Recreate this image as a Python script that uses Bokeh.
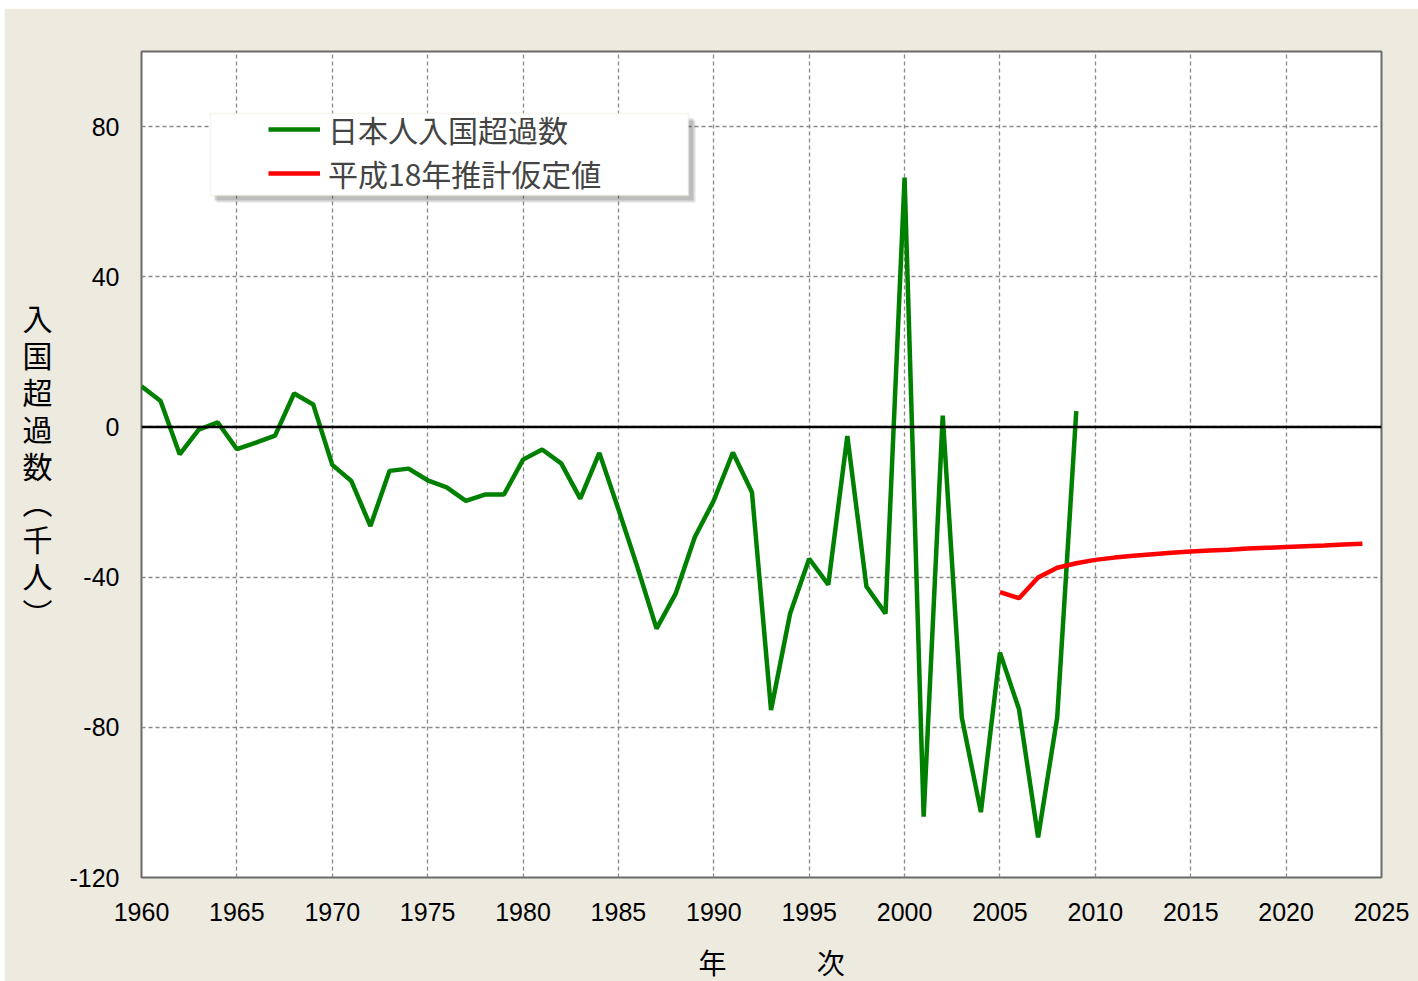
from bokeh.plotting import figure
from bokeh.layouts import column, row
from bokeh.models import (Range1d, FixedTicker, Span, Legend, LegendItem,
                          BoxAnnotation, Spacer)
from bokeh.embed import file_html
from bokeh.resources import INLINE

# ---- data (thousand persons) ----
years_actual = list(range(1960, 2010))
net_actual = [10.8, 6.9, -7.3, -0.7, 1.2, -5.9, -4.2, -2.3, 8.9, 6.0,
              -10.1, -14.4, -26.4, -11.7, -11.1, -14.2, -16.1, -19.7, -18.0, -18.0,
              -8.7, -6.0, -9.7, -19.1, -6.9, -21.9, -37.4, -53.7, -44.4, -29.4,
              -19.6, -6.8, -17.4, -75.4, -49.7, -35.1, -42.0, -2.4, -42.5, -49.7,
              66.4, -103.8, 3.0, -77.4, -102.6, -60.1, -75.2, -109.3, -77.4, 4.2]
years_proj = list(range(2005, 2025))
net_proj = [-44.0, -45.6, -40.1, -37.5, -36.3, -35.4, -34.8, -34.3, -33.9, -33.5,
            -33.2, -32.9, -32.7, -32.4, -32.2, -32.0, -31.8, -31.6, -31.3, -31.1]

x_ticks = list(range(1960, 2030, 5))
y_ticks = [-120, -80, -40, 0, 40, 80]
series_names = ["日本人入国超過数", "平成18年推計仮定値"]
y_title = "\n".join(["入", "国", "超", "過", "数", "︵", "千", "人", "︶"])
x_title = "\u2002\u00a0年\u3000\u3000\u3000\u00a0次"

BG = "#EDEAE0"
CJK = "Noto Sans CJK JP"
NUM = "Liberation Sans"

p = figure(frame_width=1240, frame_height=826,
           x_range=Range1d(1960, 2025), y_range=Range1d(-120, 100),
           output_backend="svg", toolbar_location=None,
           background_fill_color="white", border_fill_color=BG,
           min_border_left=137, min_border_right=37,
           min_border_top=43, min_border_bottom=104,
           outline_line_color="#6a6a6a", outline_line_width=2)

for ax in (p.xaxis[0], p.yaxis[0]):
    ax.axis_line_color = None
    ax.major_tick_line_color = None
    ax.minor_tick_line_color = None
    ax.major_tick_out = 0
    ax.major_tick_in = 0
    ax.major_label_text_font = NUM
    ax.major_label_text_font_size = "25px"
    ax.major_label_text_color = "black"
    ax.axis_label_text_font = CJK
    ax.axis_label_text_font_style = "normal"
    ax.axis_label_text_color = "black"
p.xaxis.ticker = FixedTicker(ticks=x_ticks)
p.yaxis.ticker = FixedTicker(ticks=y_ticks)
p.yaxis.major_label_overrides = {t: str(t) for t in y_ticks}
p.xaxis.major_label_standoff = 25
p.yaxis.major_label_standoff = 22

p.yaxis.axis_label = y_title
p.yaxis.axis_label_orientation = "horizontal"
p.yaxis.axis_label_text_font_size = "30px"
p.yaxis.axis_label_text_line_height = 0.836
p.yaxis.axis_label_standoff = 14

p.xaxis.axis_label = x_title
p.xaxis.axis_label_text_font_size = "28px"
p.xaxis.axis_label_standoff = 18

for g in (p.xgrid[0], p.ygrid[0]):
    g.grid_line_color = "#8a8a8a"
    g.grid_line_dash = "4 3"
    g.grid_line_width = 1.3

p.add_layout(Span(location=0, dimension="width", line_color="black", line_width=2.5))

r1 = p.line(years_actual, net_actual, line_color="#008000", line_width=4.5)
r2 = p.line(years_proj, net_proj, line_color="#FF0000", line_width=4.5)

# legend frame with shadow
p.add_layout(BoxAnnotation(left=73, right=552, top=759, bottom=677,
                           left_units="screen", right_units="screen",
                           top_units="screen", bottom_units="screen",
                           fill_color="black", fill_alpha=0.16, line_alpha=0))
p.add_layout(BoxAnnotation(left=75, right=554, top=757, bottom=675,
                           left_units="screen", right_units="screen",
                           top_units="screen", bottom_units="screen",
                           fill_color="black", fill_alpha=0.12, line_alpha=0))
p.add_layout(BoxAnnotation(left=69, right=547, top=764, bottom=682,
                           left_units="screen", right_units="screen",
                           top_units="screen", bottom_units="screen",
                           fill_color="white", fill_alpha=1.0,
                           line_color="#E6E2D2", line_width=2))

legend = Legend(items=[LegendItem(label=series_names[0], renderers=[r1]),
                       LegendItem(label=series_names[1], renderers=[r2])],
                location=(127, 682), background_fill_alpha=0, border_line_alpha=0,
                padding=0, spacing=0, margin=0, glyph_width=52, glyph_height=42,
                label_height=42, label_standoff=8,
                label_text_font=CJK, label_text_font_size="30px")
p.add_layout(legend)

page = column(Spacer(height=8, width=1418, background="white"),
              row(Spacer(width=4, height=973, background="white"), p, spacing=0),
              spacing=0)

open("out.html", "w").write(file_html(page, INLINE))
